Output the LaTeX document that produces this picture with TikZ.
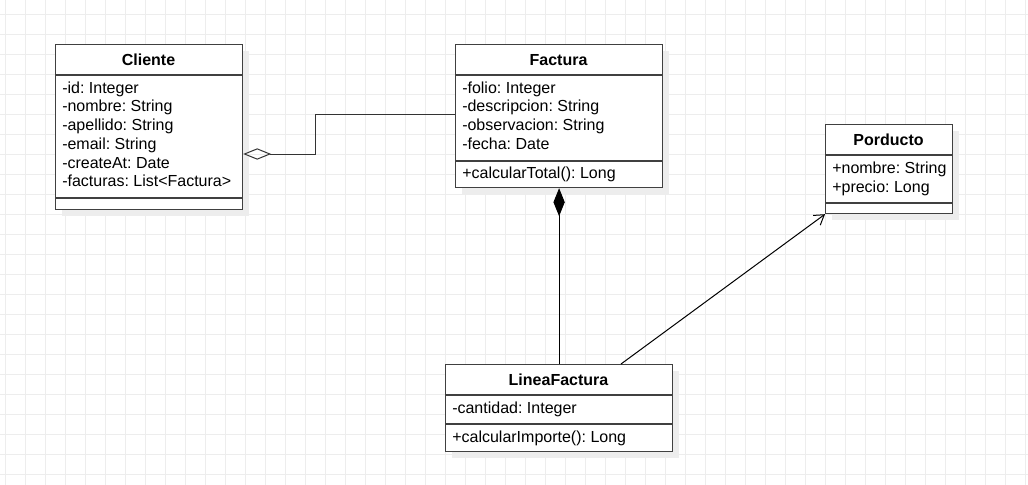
\documentclass[tikz,border=0pt]{standalone}
\usepackage{fontspec}
\setmainfont{Liberation Sans}
\usetikzlibrary{arrows.meta,shadows}
\frenchspacing
\begin{document}
\begin{tikzpicture}[x=0.75pt,y=-0.75pt,
  gridline/.style={draw=black!7,line width=0.6pt},
  classbox/.style={draw=black!75,line width=0.9pt,fill=white,inner sep=0pt,anchor=north west,
    drop shadow={shadow xshift=5pt,shadow yshift=-5pt,fill=black!7,opacity=1}},
  divider/.style={draw=black!75,line width=0.9pt},
  attr/.style={font=\fontsize{12}{14}\selectfont,inner sep=0pt,anchor=base west},
  ctitle/.style={font=\fontsize{12}{14}\selectfont\bfseries,inner sep=0pt,anchor=base},
  conn/.style={draw=black,line width=0.75pt},
  aggconn/.style={conn,draw=black!80,{Diamond[open,length=21pt,width=8.5pt]}-},
  compconn/.style={conn,{Diamond[length=21pt,width=8.5pt]}-},
  assocconn/.style={conn,-{Straight Barb[length=7pt,width=9pt]}}]
\useasboundingbox (0,0) rectangle (1028,485);
\fill[white] (0,0) rectangle (1028,485);
\foreach \gx in {5,25,...,1025} \draw[gridline] (\gx,0) -- (\gx,485);
\foreach \gy in {14,34,...,474} \draw[gridline] (0,\gy) -- (1028,\gy);

% Cliente
\node[classbox,minimum width=140.25pt,minimum height=123.75pt] (cliente) at (55,44) {};
\draw[divider] (cliente.west |- 0,75) -- (cliente.east |- 0,75);
\draw[divider] (cliente.west |- 0,198) -- (cliente.east |- 0,198);
\node[ctitle] (clientet) at (148.5,65) {Cliente};
\node[attr] (c1) at (62,93.3) {-id: Integer};
\node[attr] (c2) at (62,112) {-nombre: String};
\node[attr] (c3) at (62,130.7) {-apellido: String};
\node[attr] (c4) at (62,149.4) {-email: String};
\node[attr] (c5) at (62,168.1) {-createAt: Date};
\node[attr] (c6) at (62,186.8) {-facturas: List<Factura>};

% Factura
\node[classbox,minimum width=155.25pt,minimum height=107.25pt] (factura) at (455,44) {};
\draw[divider] (factura.west |- 0,75) -- (factura.east |- 0,75);
\draw[divider] (factura.west |- 0,161) -- (factura.east |- 0,161);
\node[ctitle] (facturat) at (558.5,65) {Factura};
\node[attr] (f1) at (462,93.3) {-folio: Integer};
\node[attr] (f2) at (462,112) {-descripcion: String};
\node[attr] (f3) at (462,130.7) {-observacion: String};
\node[attr] (f4) at (462,149.4) {-fecha: Date};
\node[attr] (f5) at (462,178.3) {+calcularTotal(): Long};

% Porducto
\node[classbox,minimum width=95.25pt,minimum height=66.75pt] (porducto) at (825,124) {};
\draw[divider] (porducto.west |- 0,155) -- (porducto.east |- 0,155);
\draw[divider] (porducto.west |- 0,203) -- (porducto.east |- 0,203);
\node[ctitle] (porductot) at (888.5,145) {Porducto};
\node[attr] (p1) at (832,173.3) {+nombre: String};
\node[attr] (p2) at (832,192) {+precio: Long};

% LineaFactura
\node[classbox,minimum width=170.25pt,minimum height=65.25pt] (lineaf) at (445,364) {};
\draw[divider] (lineaf.west |- 0,395) -- (lineaf.east |- 0,395);
\draw[divider] (lineaf.west |- 0,424) -- (lineaf.east |- 0,424);
\node[ctitle] (lineaft) at (558.5,385) {LineaFactura};
\node[attr] (l1) at (452,413.3) {-cantidad: Integer};
\node[attr] (l2) at (452,442.3) {+calcularImporte(): Long};

% connectors
\coordinate (bend1) at (315,154);
\coordinate (bend2) at (315,114);
\draw[aggconn] (cliente.east |- bend1) -- (bend1) -- (bend2) -- (factura.west |- bend2);
\draw[compconn] (factura.south) -- (lineaf.north -| factura.south);
\coordinate (assocstart) at (621,364);
\draw[assocconn] (lineaf.north -| assocstart) -- (porducto.south west);
\end{tikzpicture}
\end{document}
